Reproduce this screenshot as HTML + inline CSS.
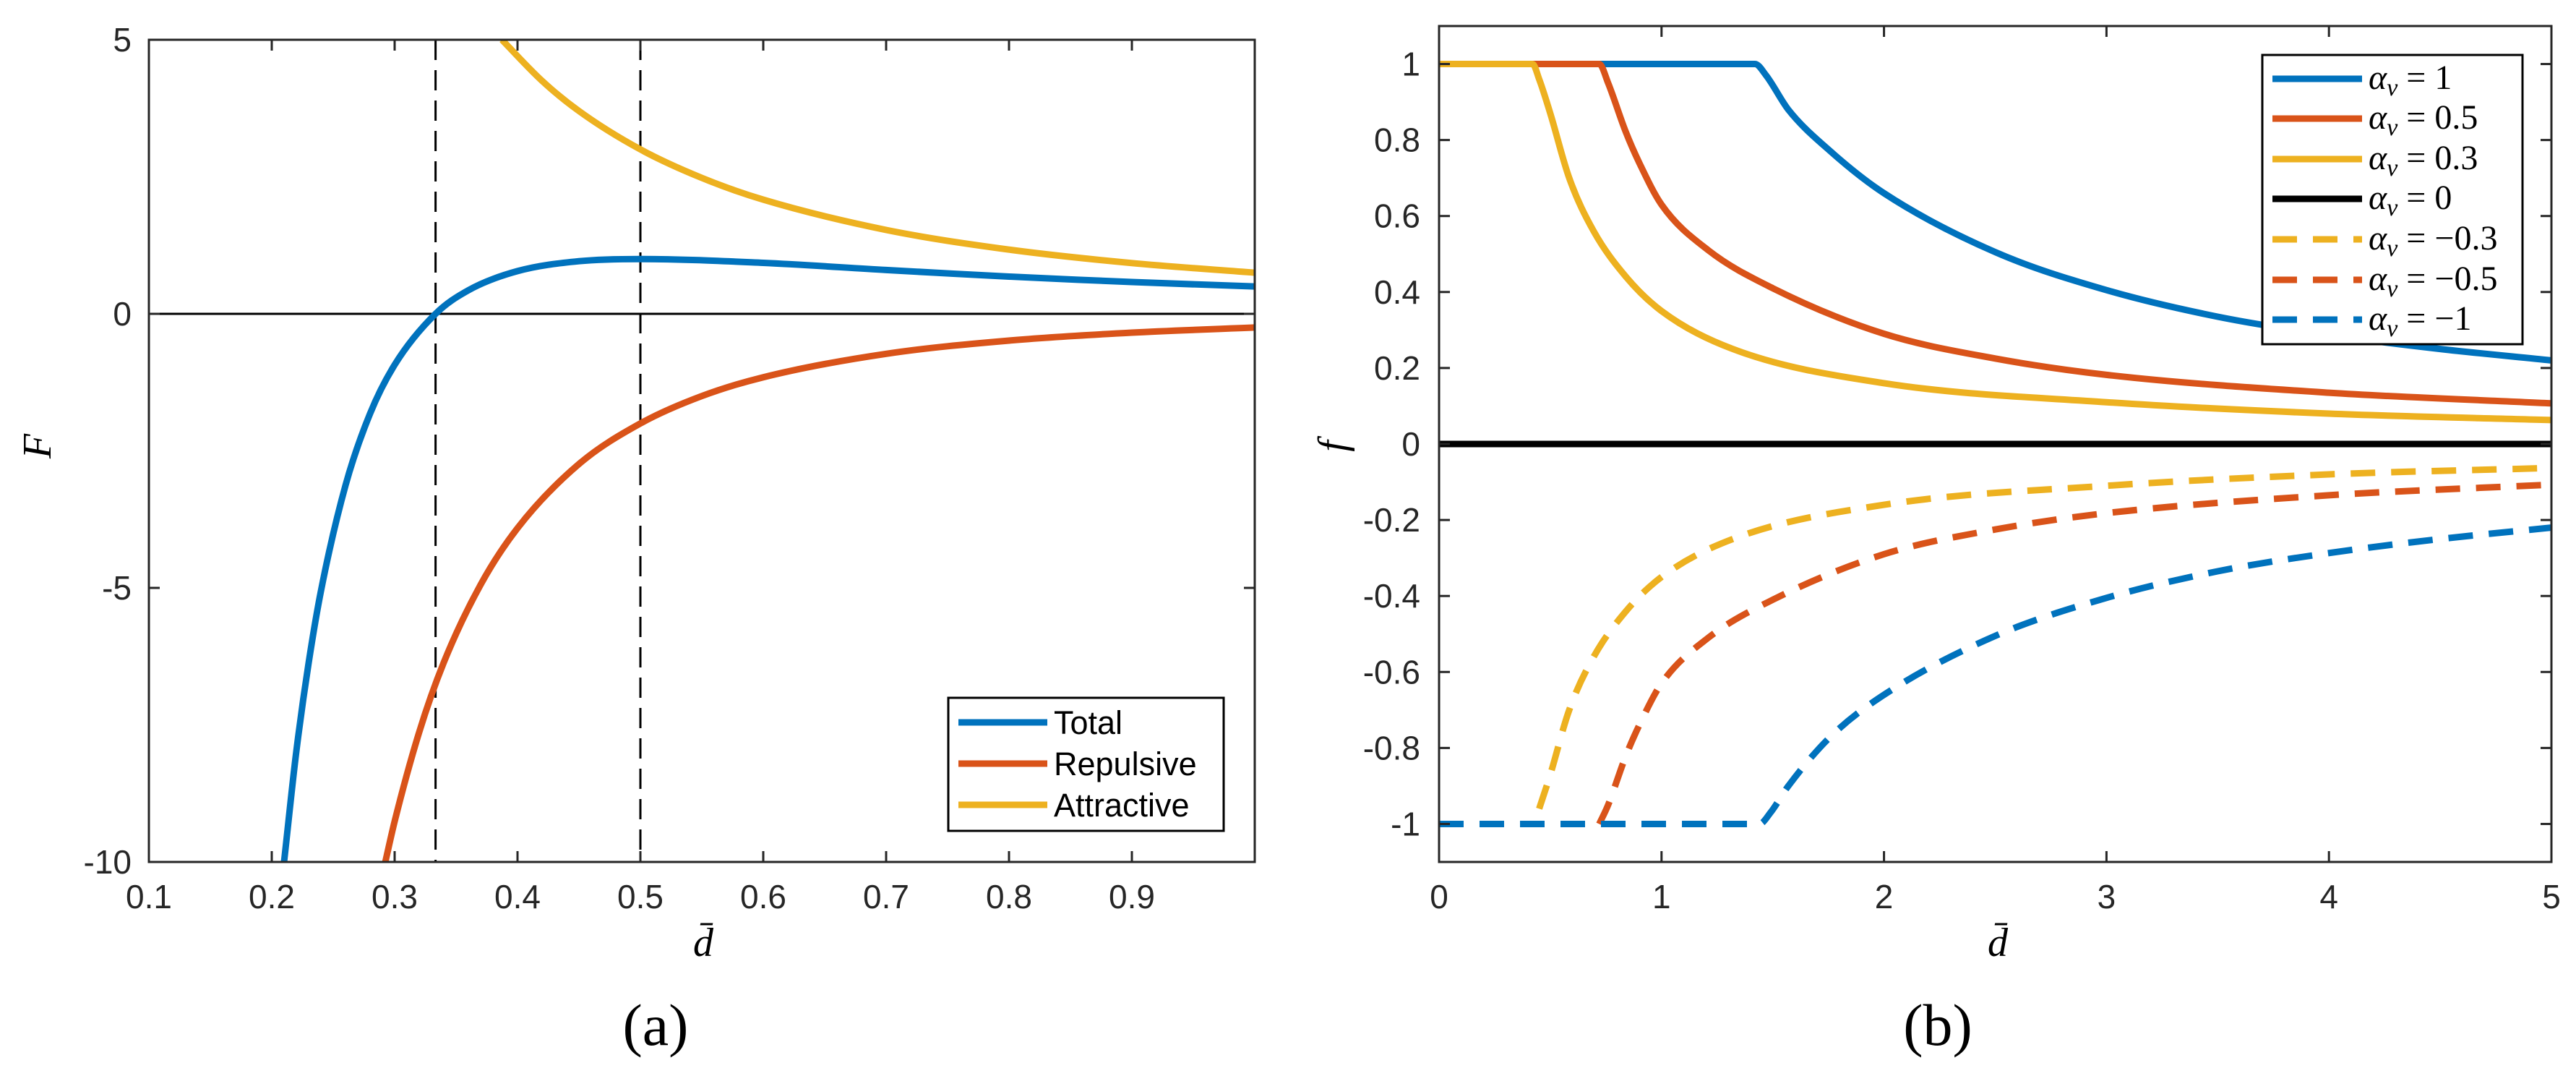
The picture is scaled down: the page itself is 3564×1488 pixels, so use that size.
<!DOCTYPE html>
<html><head><meta charset="utf-8">
<style>
html,body{margin:0;padding:0;background:#fff;}
svg{display:block;}
.tk{font-family:"Liberation Sans",sans-serif;font-size:46px;fill:#262626;}
.lg{font-family:"Liberation Sans",sans-serif;font-size:45px;fill:#000;}
.mt{font-family:"Liberation Serif",serif;font-style:italic;fill:#000;}
.cap{font-family:"Liberation Serif",serif;font-size:82px;fill:#000;}
</style></head>
<body>
<svg id="fig" width="3564" height="1488" viewBox="0 0 3564 1488" xmlns="http://www.w3.org/2000/svg">
  <g id="pa"></g>
  <g id="pb"></g>
</svg>
<script>
// ---- Panel (a) data ----
const aXTicks = [0.1,0.2,0.3,0.4,0.5,0.6,0.7,0.8,0.9];
const aXTickLabels = ["0.1","0.2","0.3","0.4","0.5","0.6","0.7","0.8","0.9"];
const aYTicks = [5,0,-5,-10];
const aYTickLabels = ["5","0","-5","-10"];
const aVLines = [0.3333,0.5];
const totalX = [0.21,0.22,0.23,0.24,0.26,0.28,0.30,0.3333,0.36,0.40,0.45,0.5,0.6,0.7,0.8,0.9,1.0];
const totalY = [-10,-7.98,-6.37,-5.06,-3.13,-1.82,-0.93,0,0.43,0.78,0.96,1.0,0.93,0.80,0.68,0.58,0.5];
const repX = [0.2924,0.30,0.32,0.34,0.37,0.40,0.45,0.5,0.55,0.6,0.7,0.8,0.9,1.0];
const repY = [-10,-9.26,-7.63,-6.36,-4.94,-3.91,-2.74,-2.0,-1.50,-1.157,-0.729,-0.488,-0.343,-0.25];
const attX = [0.3873,0.42,0.45,0.5,0.55,0.6,0.7,0.8,0.9,1.0];
const attY = [5.0,4.25,3.70,3.0,2.48,2.083,1.531,1.172,0.926,0.75];

// ---- Panel (b) data ----
const bXTicks = [0,1,2,3,4,5];
const bXTickLabels = ["0","1","2","3","4","5"];
const bYTicks = [1,0.8,0.6,0.4,0.2,0,-0.2,-0.4,-0.6,-0.8,-1];
const bYTickLabels = ["1","0.8","0.6","0.4","0.2","0","-0.2","-0.4","-0.6","-0.8","-1"];
const a1X = [0,1.42,1.47,1.57,1.76,2.0,2.5,3.0,3.5,4.0,4.5,5.0];
const a1Y = [1,1,0.97,0.88,0.77,0.66,0.505,0.405,0.335,0.287,0.25,0.22];
const a05X = [0,0.72,0.76,0.84,0.90,1.0,1.21,1.5,2.0,2.5,3.0,4.0,5.0];
const a05Y = [1,1,0.95,0.82,0.74,0.63,0.51,0.41,0.29,0.225,0.182,0.135,0.107];
const a03X = [0,0.42,0.45,0.5,0.585,0.695,0.84,1.0,1.32,2.0,3.0,4.0,5.0];
const a03Y = [1,1,0.96,0.87,0.70,0.56,0.44,0.35,0.25,0.16,0.11,0.08,0.063];
const a0X = [0,5];
const a0Y = [0,0];
const am03X = [0.45,0.5,0.585,0.695,0.84,1.0,1.32,2.0,3.0,4.0,5.0];
const am03Y = [-0.96,-0.87,-0.70,-0.56,-0.44,-0.35,-0.25,-0.16,-0.11,-0.08,-0.063];
const am05X = [0.72,0.76,0.84,0.90,1.0,1.21,1.5,2.0,2.5,3.0,4.0,5.0];
const am05Y = [-1,-0.95,-0.82,-0.74,-0.63,-0.51,-0.41,-0.29,-0.225,-0.182,-0.135,-0.107];
const am1X = [0,1.44,1.49,1.57,1.76,2.0,2.5,3.0,3.5,4.0,4.5,5.0];
const am1Y = [-1,-1,-0.97,-0.90,-0.77,-0.66,-0.505,-0.405,-0.335,-0.287,-0.25,-0.22];
const bLegendLabels = ["1","0.5","0.3","0","\u22120.3","\u22120.5","\u22121"];

const NS = "http://www.w3.org/2000/svg";
const BLUE="#0072BD", RED="#D95319", YEL="#EDB120", AX="#262626";
function mk(parent, tag, attrs){ const e=document.createElementNS(NS,tag); for(const k in attrs) e.setAttribute(k,attrs[k]); parent.appendChild(e); return e; }
function lin(d0,d1,r0,r1){ return v => r0 + (v-d0)/(d1-d0)*(r1-r0); }
function smoothPath(xs, ys, sx, sy){
  const n=xs.length;
  if(n<3){ return "M"+sx(xs[0])+","+sy(ys[0])+xs.slice(1).map((x,i)=>" L"+sx(x)+","+sy(ys[i+1])).join(""); }
  const dl=[], m=new Array(n);
  for(let i=0;i<n-1;i++) dl.push((ys[i+1]-ys[i])/(xs[i+1]-xs[i]));
  m[0]=dl[0]; m[n-1]=dl[n-2];
  for(let i=1;i<n-1;i++){ m[i] = (dl[i-1]*dl[i]<=0) ? 0 : (dl[i-1]+dl[i])/2; }
  for(let i=0;i<n-1;i++){
    if(dl[i]===0){ m[i]=0; m[i+1]=0; continue; }
    const a=m[i]/dl[i], b=m[i+1]/dl[i], s=a*a+b*b;
    if(s>9){ const t=3/Math.sqrt(s); m[i]=t*a*dl[i]; m[i+1]=t*b*dl[i]; }
  }
  let d="M"+sx(xs[0]).toFixed(1)+","+sy(ys[0]).toFixed(1);
  for(let i=0;i<n-1;i++){
    const h=xs[i+1]-xs[i];
    const c1x=xs[i]+h/3, c1y=ys[i]+m[i]*h/3, c2x=xs[i+1]-h/3, c2y=ys[i+1]-m[i+1]*h/3;
    d+=" C"+sx(c1x).toFixed(1)+","+sy(c1y).toFixed(1)+" "+sx(c2x).toFixed(1)+","+sy(c2y).toFixed(1)+" "+sx(xs[i+1]).toFixed(1)+","+sy(ys[i+1]).toFixed(1);
  }
  return d;
}

// ===== Panel (a) =====
(function(){
  const g = document.getElementById('pa');
  const L=206, R=1736, T=55, B=1192;
  const sx = lin(0.1,1.0,L,R), sy = lin(5,-10,T,B);
  const cp = mk(g,'clipPath',{id:'clipA'}); mk(cp,'rect',{x:L,y:T,width:R-L,height:B-T});
  const zl = mk(g,'line',{x1:L,x2:R,y1:sy(0),y2:sy(0),stroke:'#000','stroke-width':3});
  
  
  aVLines.forEach(v=>{
    const l = mk(g,'line',{x1:sx(v),x2:sx(v),y1:T,y2:B,stroke:'#000','stroke-width':3,'stroke-dasharray':'28,14'});
    
    
  });
  const series = [[totalX,totalY,BLUE,'total-curve'],[repX,repY,RED,'repulsive-curve'],[attX,attY,YEL,'attractive-curve']];
  series.forEach(s=>{
    const p = mk(g,'path',{d:smoothPath(s[0],s[1],sx,sy),fill:'none',stroke:s[2],'stroke-width':9,'clip-path':'url(#clipA)'});
    
    
  });
  const box = mk(g,'rect',{x:L,y:T,width:R-L,height:B-T,fill:'none',stroke:AX,'stroke-width':3});
  
  
  aXTicks.forEach((v,i)=>{
    const x=sx(v);
    mk(g,'line',{x1:x,x2:x,y1:B,y2:B-15,stroke:AX,'stroke-width':3});
    mk(g,'line',{x1:x,x2:x,y1:T,y2:T+15,stroke:AX,'stroke-width':3});
    const t = mk(g,'text',{x:x,y:1256,'text-anchor':'middle',class:'tk'}); t.textContent=aXTickLabels[i];
    
    
  });
  aYTicks.forEach((v,i)=>{
    const y=sy(v);
    mk(g,'line',{x1:L,x2:L+15,y1:y,y2:y,stroke:AX,'stroke-width':3});
    mk(g,'line',{x1:R,x2:R-15,y1:y,y2:y,stroke:AX,'stroke-width':3});
    const t = mk(g,'text',{x:182,y:y+16,'text-anchor':'end',class:'tk'}); t.textContent=aYTickLabels[i];
    
    
  });
  const xt = mk(g,'text',{x:973,y:1322,'text-anchor':'middle',class:'mt','font-size':56}); xt.textContent='d\u0304';
  
  
  const yt = mk(g,'text',{x:0,y:0,'text-anchor':'middle',class:'mt','font-size':56,transform:'translate(70,617) rotate(-90)'}); yt.textContent='F';
  
  
  const cap = mk(g,'text',{x:907,y:1445,'text-anchor':'middle',class:'cap'}); cap.textContent='(a)';
  
  
  const lg = mk(g,'g',{});
  
  
  mk(lg,'rect',{x:1312,y:965,width:381,height:184,fill:'#fff',stroke:'#000','stroke-width':3});
  const names=['Total','Repulsive','Attractive'], cols=[BLUE,RED,YEL], ys=[999,1056,1113];
  names.forEach((n,i)=>{
    const e = mk(lg,'g',{});
    
    
    mk(e,'line',{x1:1326,x2:1449,y1:ys[i],y2:ys[i],stroke:cols[i],'stroke-width':9});
    const t = mk(e,'text',{x:1458,y:ys[i]+16,class:'lg'}); t.textContent=n;
  });
})();

// ===== Panel (b) =====
(function(){
  const g = document.getElementById('pb');
  const L=1991, R=3530, T=36, B=1192;
  const sx = lin(0,5,L,R), sy = lin(1.1,-1.1,T,B);
  const cp = mk(g,'clipPath',{id:'clipB'}); mk(cp,'rect',{x:L,y:T,width:R-L,height:B-T});
  const series = [
    [a1X,a1Y,BLUE,false,'curve-alpha-1'],
    [a05X,a05Y,RED,false,'curve-alpha-0.5'],
    [a03X,a03Y,YEL,false,'curve-alpha-0.3'],
    [a0X,a0Y,'#000',false,'curve-alpha-0'],
    [am03X,am03Y,YEL,true,'curve-alpha-neg-0.3'],
    [am05X,am05Y,RED,true,'curve-alpha-neg-0.5'],
    [am1X,am1Y,BLUE,true,'curve-alpha-neg-1']
  ];
  series.forEach(s=>{
    const attrs={d:smoothPath(s[0],s[1],sx,sy),fill:'none',stroke:s[2],'stroke-width':9,'clip-path':'url(#clipB)'};
    if(s[3]) attrs['stroke-dasharray']='34,22';
    const p = mk(g,'path',attrs);
    
    
  });
  const box = mk(g,'rect',{x:L,y:T,width:R-L,height:B-T,fill:'none',stroke:AX,'stroke-width':3});
  
  
  bXTicks.forEach((v,i)=>{
    const x=sx(v);
    mk(g,'line',{x1:x,x2:x,y1:B,y2:B-15,stroke:AX,'stroke-width':3});
    mk(g,'line',{x1:x,x2:x,y1:T,y2:T+15,stroke:AX,'stroke-width':3});
    const t = mk(g,'text',{x:x,y:1256,'text-anchor':'middle',class:'tk'}); t.textContent=bXTickLabels[i];
    
    
  });
  bYTicks.forEach((v,i)=>{
    const y=sy(v);
    mk(g,'line',{x1:L,x2:L+15,y1:y,y2:y,stroke:AX,'stroke-width':3});
    mk(g,'line',{x1:R,x2:R-15,y1:y,y2:y,stroke:AX,'stroke-width':3});
    const t = mk(g,'text',{x:1965,y:y+16,'text-anchor':'end',class:'tk'}); t.textContent=bYTickLabels[i];
    
    
  });
  const xt = mk(g,'text',{x:2764,y:1322,'text-anchor':'middle',class:'mt','font-size':56}); xt.textContent='d\u0304';
  
  
  const yt = mk(g,'text',{x:0,y:0,'text-anchor':'middle',class:'mt','font-size':56,transform:'translate(1862,617) rotate(-90)'}); yt.textContent='f';
  
  
  const cap = mk(g,'text',{x:2681,y:1445,'text-anchor':'middle',class:'cap'}); cap.textContent='(b)';
  
  
  const lg = mk(g,'g',{});
  
  
  mk(lg,'rect',{x:3130,y:76,width:360,height:400,fill:'#fff',stroke:'#000','stroke-width':3});
  const ys=[109,164,220,275,331,387,442];
  series.forEach((s,i)=>{
    const e = mk(lg,'g',{});
    
    
    const la={x1:3144,x2:3268,y1:ys[i],y2:ys[i],stroke:s[2],'stroke-width':9};
    if(s[3]) la['stroke-dasharray']='34,22';
    mk(e,'line',la);
    const t = mk(e,'text',{x:3277,y:ys[i]+14,class:'mt','font-size':48});
    const a = mk(t,'tspan',{}); a.textContent='\u03b1';
    const v = mk(t,'tspan',{'font-size':34,dy:9}); v.textContent='v';
    const r = mk(t,'tspan',{dy:-9,'font-style':'normal'}); r.textContent=' = '+bLegendLabels[i];
  });
})();
</script>
</body></html>
